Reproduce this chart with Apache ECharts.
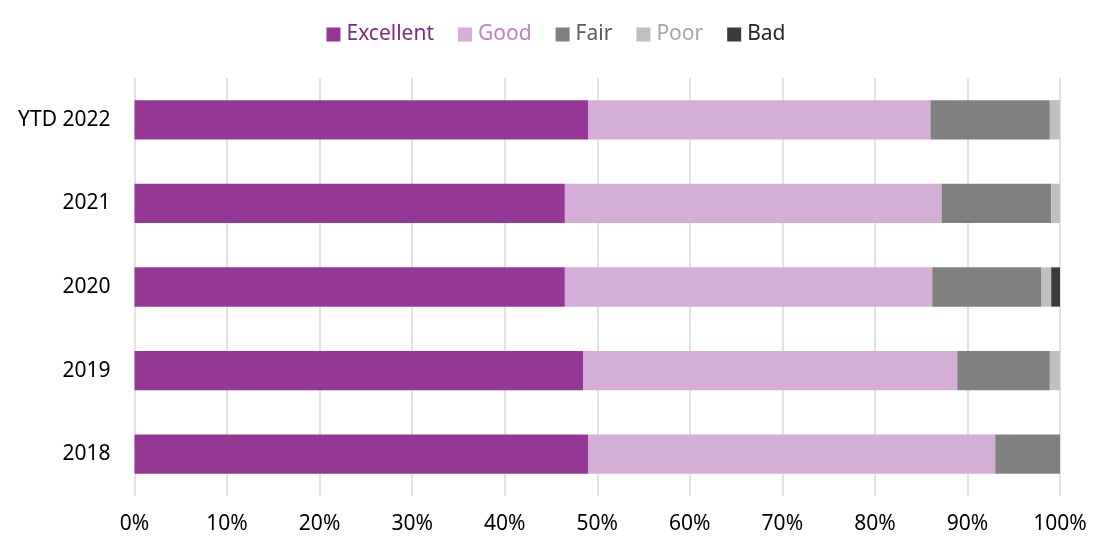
<!DOCTYPE html>
<html><head><meta charset="utf-8">
<script src="https://cdn.jsdelivr.net/npm/echarts@6/dist/echarts.min.js"></script>
<style>html,body{margin:0;padding:0;background:#fff}#c{width:1112px;height:556px}</style>
</head><body><div id="c"></div>
<script>
const categories = ['2018', '2019', '2020', '2021', 'YTD 2022'];
const excellent = [49.0, 48.5, 46.5, 46.5, 49.0];
const good      = [44.0, 40.4, 39.7, 40.7, 37.0];
const fair      = [7.0, 10.0, 11.8, 11.85, 12.9];
const poor      = [0, 1.1, 1.05, 0.95, 1.1];
const bad       = [0, 0, 0.95, 0, 0];
const seriesNames = ['Excellent', 'Good', 'Fair', 'Poor', 'Bad'];
const xTicks = [0, 10, 20, 30, 40, 50, 60, 70, 80, 90, 100];

const colors = ['#953795', '#D4AED6', '#808080', '#BFBFBF', '#3B3B3B'];
const legendTextColors = ['#7B2D80', '#C47FC6', '#595959', '#A6A6A6', '#262626'];
const values = [excellent, good, fair, poor, bad];
const font = 'Noto Sans';

const chart = echarts.init(document.getElementById('c'));
chart.setOption({
  animation: false,
  legend: {
    top: 19,
    left: 'center',
    icon: 'rect',
    itemWidth: 14,
    itemHeight: 14,
    itemGap: 24,
    textStyle: { fontFamily: font, fontSize: 21, padding: [0, 0, 0, 1] },
    data: seriesNames.map((n, i) => ({ name: n, textStyle: { color: legendTextColors[i] } }))
  },
  grid: { left: 134.5, right: 52, top: 78, bottom: 60, containLabel: false },
  xAxis: {
    type: 'value', min: 0, max: 100, interval: 10,
    axisLine: { show: false }, axisTick: { show: false },
    splitLine: { lineStyle: { color: '#D9D9D9', width: 1.5 } },
    axisLabel: { formatter: v => xTicks.includes(v) ? v + '%' : '', color: '#000', fontFamily: font, fontSize: 21, margin: 18 }
  },
  yAxis: {
    type: 'category', data: categories,
    axisLine: { show: false }, axisTick: { show: false },
    axisLabel: { color: '#000', fontFamily: font, fontSize: 21, margin: 24 }
  },
  series: seriesNames.map((n, i) => ({
    name: n, type: 'bar', stack: 'total', data: values[i],
    barWidth: '47%',
    itemStyle: { color: colors[i] }
  }))
});
</script></body></html>
